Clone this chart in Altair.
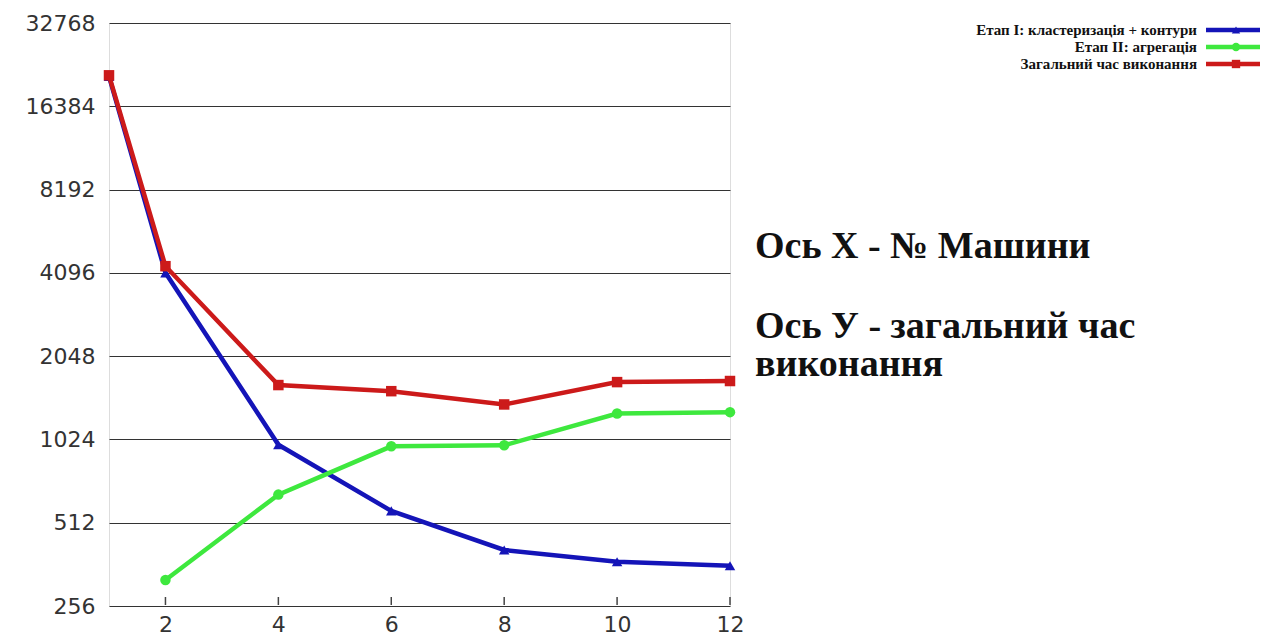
import altair as alt
import pandas as pd

# ---- data ----
machines = [1, 2, 4, 6, 8, 10, 12]
stage1 = [21000, 4096, 980, 565, 408, 370, 358]          # Етап I
stage2 = [None, 318, 647, 967, 975, 1270, 1285]           # Етап II
total = [21200, 4330, 1610, 1530, 1370, 1650, 1665]       # Загальний час

series_names = ["Етап I: кластеризація + контури", "Етап II:  агрегація", "Загальний час виконання"]
series_colors = ["#1414b8", "#3ee83e", "#cc1a1a"]
series_shapes = ["triangle-up", "circle", "square"]
y_ticks = [256, 512, 1024, 2048, 4096, 8192, 16384, 32768]
x_ticks = [2, 4, 6, 8, 10, 12]
notes = ["Ось Х - № Машини", "Ось У - загальний час", "виконання"]

rows = []
for name, vals in zip(series_names, [stage1, stage2, total]):
    for m, v in zip(machines, vals):
        if v is not None:
            rows.append({"machine": m, "time": v, "series": name})
df = pd.DataFrame(rows)

W, H = 621, 583

xscale = alt.Scale(domain=[1, 12], nice=False, zero=False)
xaxis = alt.Axis(values=x_ticks, title=None, grid=False, domain=False, ticks=False,
                 format="d",
                 labelFont="DejaVu Sans", labelFontSize=22, labelColor="#333",
                 labelPadding=8, labelFlush=False)
xenc = alt.X("machine:Q", scale=xscale, axis=xaxis)
yenc = alt.Y("time:Q", scale=alt.Scale(type="log", base=2, domain=[256, 32768], nice=False),
             axis=alt.Axis(values=y_ticks, title=None, grid=True, gridColor="#333", gridWidth=1,
                           domain=False, ticks=False, format="d",
                           labelFont="DejaVu Sans", labelFontSize=22, labelColor="#333",
                           labelPadding=14))
color = alt.Color("series:N", scale=alt.Scale(domain=series_names, range=series_colors), legend=None)
shape = alt.Shape("series:N", scale=alt.Scale(domain=series_names, range=series_shapes), legend=None)
order = alt.Order("machine:Q")

base = alt.Chart(df)
layers = []

for name in series_names:
    sub = base.transform_filter(alt.datum.series == name)
    layers.append(sub.mark_line(strokeWidth=4.5).encode(x=xenc, y=yenc, color=color, order=order))
    layers.append(sub.mark_point(filled=True, size=110, opacity=1).encode(x=xenc, y=yenc, color=color, shape=shape))

# inward tick marks on the bottom axis
tick_df = pd.DataFrame({"machine": x_ticks})
layers.append(alt.Chart(tick_df).mark_rule(color="#444", strokeWidth=1.5).encode(
    x=alt.X("machine:Q", scale=xscale, axis=xaxis), y=alt.value(H - 1), y2=alt.value(H - 9)))

# manual legend (labels to the left of the symbols)
leg_y = [7, 24, 41]
for name, col, shp, ly in zip(series_names, series_colors, series_shapes, leg_y):
    one = alt.Chart(pd.DataFrame({"t": [name]}))
    layers.append(one.mark_rule(color=col, strokeWidth=4.5).encode(
        x=alt.value(1097), x2=alt.value(1152), y=alt.value(ly)))
    layers.append(one.mark_point(filled=True, color=col, size=70, shape=shp, opacity=1).encode(
        x=alt.value(1127), y=alt.value(ly)))
    layers.append(one.mark_text(align="right", baseline="middle", font="Liberation Serif",
                                fontWeight="bold", fontSize=15, color="#111").encode(
        text="t:N", x=alt.value(1088), y=alt.value(ly)))

# annotation notes on the right
note_y = [224, 304, 342]
for txt, ny in zip(notes, note_y):
    layers.append(alt.Chart(pd.DataFrame({"t": [txt]})).mark_text(
        align="left", baseline="middle", font="Liberation Serif", fontWeight="bold",
        fontSize=38, color="#111").encode(text="t:N", x=alt.value(646), y=alt.value(ny)))

chart = alt.layer(*layers).properties(
    width=W, height=H,
    autosize=alt.AutoSizeParams(type="none"),
    padding={"left": 101, "top": 15, "right": 530, "bottom": 30},
).configure_view(stroke="#777", strokeWidth=1.5).configure(background="white")

chart.save("out.html", embed_options={"renderer": "svg", "actions": False})
